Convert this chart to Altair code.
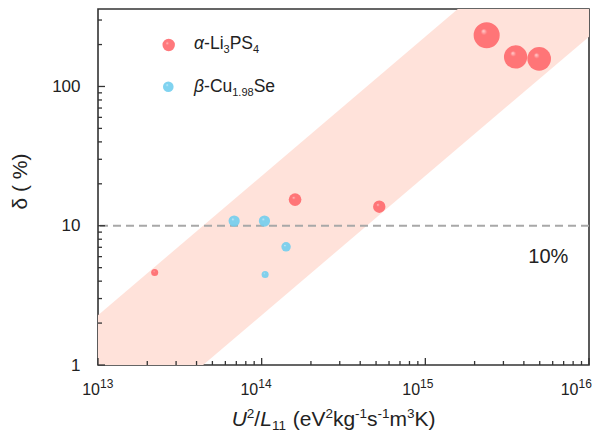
import altair as alt
import pandas as pd

# ---------------- data ----------------
li_x = [2.22e13, 1.60e14, 5.23e14, 2.37e15, 3.56e15, 4.96e15]
li_y = [4.62, 15.4, 13.7, 233, 163, 158]
li_size = [50, 161, 154, 680, 540, 560]

cu_x = [6.79e13, 1.04e14, 1.41e14, 1.05e14]
cu_y = [10.8, 10.8, 7.06, 4.47]
cu_size = [126, 126, 89, 50]

band_x = [1e13, 1e16]
band_upper = [2.28, 2280]
band_lower = [0.228, 228]

threshold = [10]

x_major = [1e13, 1e14, 1e15, 1e16]
x_exp = ["13", "14", "15", "16"]
x_label_shift = [2, -3.4, -5.3, -10.5]
x_minor = [k * 10 ** e for e in (13, 14, 15) for k in range(2, 10)]
y_major = [1, 10, 100]
y_minor = [k * 10 ** e for e in (0, 1) for k in range(2, 10)] + [200, 300]

# ---------------- layout / style ----------------
PAD_L, PAD_T, PAD_R = 90, 1, 3
W, H = 491, 356
PL, PT = 8 + PAD_L, 8 + PAD_T   # page position of the plot origin
FONT = "Liberation Sans"
RED, RED_L = "#FF666A", "#FFD2D2"
BLUE, BLUE_L = "#6FCDEE", "#DDF5FF"
INK = "#222222"

xs = alt.Scale(type="log", domain=[1e13, 1e16], nice=False)
ys = alt.Scale(type="log", domain=[1, 360], nice=False)


def grad(base, light):
    return {"gradient": "radial", "x1": 0.37, "y1": 0.33, "r1": 0,
            "x2": 0.5, "y2": 0.5, "r2": 0.5,
            "stops": [{"offset": 0, "color": light},
                      {"offset": 0.24, "color": base},
                      {"offset": 1, "color": base}]}


one = pd.DataFrame({"a": [0]})

band_df = pd.DataFrame({"x": band_x, "hi": band_upper, "lo": band_lower})
band = alt.Chart(band_df).mark_area(color="#FFE2DA", clip=True).encode(
    x=alt.X("x:Q", scale=xs, axis=alt.Axis(labels=False, ticks=False, domain=False,
                                             grid=False, title=None)),
    y=alt.Y("hi:Q", scale=ys, axis=alt.Axis(values=y_major, format="d", grid=False,
                                              ticks=False, tickSize=0, domain=False,
                                              labelFontSize=17, labelPadding=18,
                                              title=None)),
    y2="lo:Q",
)

dash = alt.Chart(pd.DataFrame({"y": threshold})).mark_rule(
    color="#A8A8A8", strokeWidth=2, strokeDash=[8, 5]).encode(
    y=alt.Y("y:Q", scale=ys))

tick_color = "#333333"
xmaj = alt.Chart(pd.DataFrame({"v": x_major})).mark_rule(color=tick_color, strokeWidth=1.3).encode(
    x=alt.X("v:Q", scale=xs), y=alt.value(H), y2=alt.value(H - 7))
xmin = alt.Chart(pd.DataFrame({"v": x_minor})).mark_rule(color=tick_color, strokeWidth=1.3).encode(
    x=alt.X("v:Q", scale=xs), y=alt.value(H), y2=alt.value(H - 4))
ymaj = alt.Chart(pd.DataFrame({"v": y_major})).mark_rule(color=tick_color, strokeWidth=1.3).encode(
    y=alt.Y("v:Q", scale=ys), x=alt.value(0), x2=alt.value(7))
ymin = alt.Chart(pd.DataFrame({"v": y_minor})).mark_rule(color=tick_color, strokeWidth=1.3).encode(
    y=alt.Y("v:Q", scale=ys), x=alt.value(0), x2=alt.value(4))


def spheres(xv, yv, sv, base, light):
    df = pd.DataFrame({"x": xv, "y": yv, "s": sv})
    return alt.Chart(df).mark_circle(fill=grad(base, light), opacity=0.88).encode(
        x=alt.X("x:Q", scale=xs), y=alt.Y("y:Q", scale=ys),
        size=alt.Size("s:Q", scale=None, legend=None))


li = spheres(li_x, li_y, li_size, RED, RED_L)
cu = spheres(cu_x, cu_y, cu_size, BLUE, BLUE_L)

# x tick labels 10^n  (one pair of text marks per decade)
xlabels = []
for v, e, o in zip(x_major, x_exp, x_label_shift):
    d = pd.DataFrame({"v": [v], "e": [e]})
    xlabels.append(alt.Chart(d).mark_text(align="right", baseline="alphabetic", fontSize=16,
                                          color=INK, font=FONT, dx=o).encode(
        x=alt.X("v:Q", scale=xs), y=alt.value(395 - PT), text=alt.value("10")))
    xlabels.append(alt.Chart(d).mark_text(align="left", baseline="alphabetic", fontSize=12,
                                          color=INK, font=FONT, dx=o).encode(
        x=alt.X("v:Q", scale=xs), y=alt.value(388 - PT), text="e:N"))

# rich-text helper (positions in page pixels, converted to plot coordinates)
ADV = {"0": .556, "1": .556, "2": .556, "3": .556, "4": .556, "5": .556, "6": .556,
       "7": .556, "8": .556, "9": .556, ".": .278, "-": .333, "(": .333, ")": .333,
       " ": .278, "/": .278, "%": .889, "U": .722, "L": .556, "e": .556, "V": .667,
       "k": .5, "g": .556, "s": .5, "m": .833, "K": .667, "i": .222, "P": .667,
       "S": .667, "C": .722, "u": .556, "α": .578, "β": .575}


def rich(pieces, x0, y0):
    out = []
    x = x0 - PL
    for text, size, style, shift in pieces:
        lead = len(text) - len(text.lstrip(" "))
        x += lead * ADV[" "] * size
        body = text.lstrip(" ")
        out.append(alt.Chart(one).mark_text(align="left", baseline="alphabetic",
                                            fontSize=size, fontStyle=style,
                                            color=INK, font=FONT).encode(
            x=alt.value(x), y=alt.value(y0 - PT + shift), text=alt.value(body)))
        x += sum(ADV.get(c, .556) for c in body) * size
    return out


M, S = 21, 13.5
xtitle = rich([("U", M, "italic", 0), ("2", S, "normal", -8), ("/", M, "normal", 0),
               ("L", M, "italic", 0), ("11", S, "normal", 4),
               (" (eV", M, "normal", 0), ("2", S, "normal", -8), ("kg", M, "normal", 0),
               ("-1", S, "normal", -8), ("s", M, "normal", 0), ("-1", S, "normal", -8),
               ("m", M, "normal", 0), ("3", S, "normal", -8), ("K)", M, "normal", 0)],
              231.7, 426)

leg_a = rich([("α", 17.5, "italic", 0), ("-Li", 17.5, "normal", 0), ("3", 11, "normal", 4),
              ("PS", 17.5, "normal", 0), ("4", 11, "normal", 4)], 194, 48.5)
leg_b = rich([("β", 17.5, "italic", 0), ("-Cu", 17.5, "normal", 0),
              ("1.98", 11, "normal", 4), ("Se", 17.5, "normal", 0)], 194, 91.5)

leg_dot_a = alt.Chart(one).mark_circle(fill=grad(RED, RED_L), opacity=0.88, size=154).encode(
    x=alt.value(168.7 - PL), y=alt.value(45 - PT))
leg_dot_b = alt.Chart(one).mark_circle(fill=grad(BLUE, BLUE_L), opacity=0.88, size=113).encode(
    x=alt.value(168.3 - PL), y=alt.value(86.7 - PT))

pct = alt.Chart(one).mark_text(align="left", baseline="alphabetic", fontSize=20,
                               color=INK, font=FONT).encode(
    x=alt.value(528.3 - PL), y=alt.value(262.7 - PT), text=alt.value("10%"))

ytitle = alt.Chart(one).mark_text(align="center", baseline="middle", fontSize=21, angle=270,
                                  color=INK, font=FONT).encode(
    x=alt.value(20.5 - PL), y=alt.value(181.5 - PT), text=alt.value("δ\u00a0(\u00a0%)"))

chart = alt.layer(
    band, dash, xmaj, xmin, ymaj, ymin, li, cu, *xlabels,
    leg_dot_a, leg_dot_b, pct, ytitle, *xtitle, *leg_a, *leg_b
).properties(
    width=W, height=H,
    autosize=alt.AutoSizeParams(type="none"),
    padding={"left": PAD_L, "top": PAD_T, "right": PAD_R, "bottom": 70},
).configure_view(
    stroke="#333333", strokeWidth=1.6
).configure_axis(
    labelFont=FONT, titleFont=FONT, labelColor=INK, titleColor=INK,
    titleFontWeight="normal", grid=False
).configure_text(font=FONT)

chart.save("out.html", embed_options={"renderer": "svg", "actions": False})
